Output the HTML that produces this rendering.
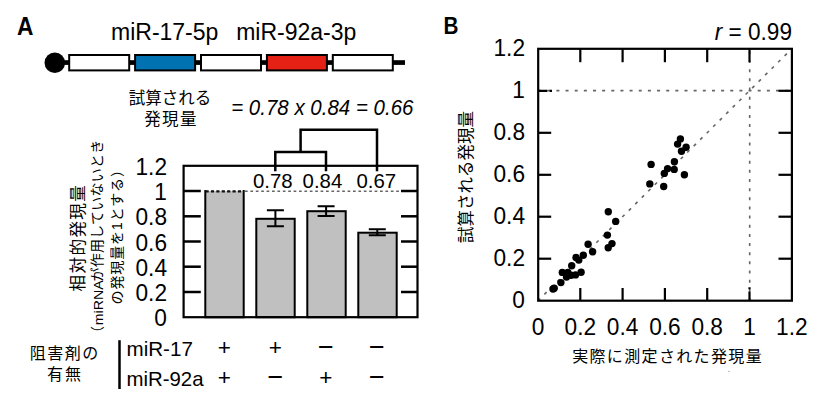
<!DOCTYPE html>
<html><head><meta charset="utf-8"><title>figure</title>
<style>
html,body{margin:0;padding:0;background:#fff;}
svg{display:block;}
</style></head>
<body>
<svg width="820" height="403" viewBox="0 0 820 403">
<rect width="820" height="403" fill="#fff"/>
<text transform="translate(16.9,34.9) scale(0.91,1)" font-family='"Liberation Sans", sans-serif' font-weight="bold" font-size="25">A</text>
<text x="111" y="40" font-family='"Liberation Sans", sans-serif' font-size="23">miR-17-5p</text>
<text x="236.2" y="40" font-family='"Liberation Sans", sans-serif' font-size="23">miR-92a-3p</text>
<rect x="55" y="60.2" width="350" height="4.7" fill="#000"/>
<circle cx="54.8" cy="62.8" r="10.3" fill="#000"/>
<rect x="69.2" y="55" width="60" height="15.4" fill="#fff" stroke="#000" stroke-width="2"/>
<rect x="135.1" y="55" width="60" height="15.4" fill="#0072b2" stroke="#000" stroke-width="2"/>
<rect x="201.0" y="55" width="60" height="15.4" fill="#fff" stroke="#000" stroke-width="2"/>
<rect x="266.9" y="55" width="60" height="15.4" fill="#e52014" stroke="#000" stroke-width="2"/>
<rect x="332.8" y="55" width="60" height="15.4" fill="#fff" stroke="#000" stroke-width="2"/>
<text x="170" y="103.6" text-anchor="middle" font-family='"Liberation Sans", "Noto Sans CJK JP", sans-serif' font-size="16.5">試算される</text>
<text x="171" y="125.3" text-anchor="middle" font-family='"Liberation Sans", "Noto Sans CJK JP", sans-serif' font-size="16.5" letter-spacing="1.4">発現量</text>
<text transform="translate(231.2,114.7) scale(0.99,1.06)" font-family='"Liberation Sans", sans-serif' font-style="italic" font-size="20.7">= 0.78 x 0.84 = 0.66</text>
<path d="M275.3,171.3 V152.1 H326 V171.3 M300.6,152.1 V129.7 H377 V171.3" fill="none" stroke="#000" stroke-width="2.5"/>
<rect x="205.3" y="191.0" width="38.4" height="126.2" fill="#c0c0c0"/>
<path d="M205.3,190.0 V317.2 H243.7 V190.0" fill="none" stroke="#000" stroke-width="2"/>
<rect x="256.3" y="218.8" width="38.4" height="98.4" fill="#c0c0c0" stroke="#000" stroke-width="2"/>
<rect x="307.3" y="211.2" width="38.4" height="106.0" fill="#c0c0c0" stroke="#000" stroke-width="2"/>
<rect x="358.3" y="232.7" width="38.4" height="84.5" fill="#c0c0c0" stroke="#000" stroke-width="2"/>
<path d="M266.9,210.3 H283.9 M275.4,210.3 V226.2 M266.9,226.2 H283.9" fill="none" stroke="#000" stroke-width="2"/>
<path d="M317.6,206.3 H334.6 M326.1,206.3 V216.0 M317.6,216.0 H334.6" fill="none" stroke="#000" stroke-width="2"/>
<path d="M368.8,229.2 H385.8 M377.3,229.2 V235.2 M368.8,235.2 H385.8" fill="none" stroke="#000" stroke-width="2"/>
<line x1="245" y1="191.3" x2="404" y2="191.3" stroke="#666" stroke-width="1.5" stroke-dasharray="2.7 2.7"/>
<line x1="205.5" y1="191.4" x2="244" y2="191.4" stroke="#111" stroke-width="2.2" stroke-dasharray="3.2 2.2"/>
<rect x="183.6" y="165.8" width="233.9" height="151.4" fill="none" stroke="#000" stroke-width="2.2"/>
<line x1="183.6" y1="292.0" x2="200.8" y2="292.0" stroke="#000" stroke-width="2.5"/>
<line x1="401" y1="292.0" x2="417.5" y2="292.0" stroke="#000" stroke-width="2.5"/>
<line x1="183.6" y1="266.7" x2="200.8" y2="266.7" stroke="#000" stroke-width="2.5"/>
<line x1="401" y1="266.7" x2="417.5" y2="266.7" stroke="#000" stroke-width="2.5"/>
<line x1="183.6" y1="241.5" x2="200.8" y2="241.5" stroke="#000" stroke-width="2.5"/>
<line x1="401" y1="241.5" x2="417.5" y2="241.5" stroke="#000" stroke-width="2.5"/>
<line x1="183.6" y1="216.3" x2="200.8" y2="216.3" stroke="#000" stroke-width="2.5"/>
<line x1="401" y1="216.3" x2="417.5" y2="216.3" stroke="#000" stroke-width="2.5"/>
<line x1="183.6" y1="191.0" x2="200.8" y2="191.0" stroke="#000" stroke-width="2.5"/>
<line x1="401" y1="191.0" x2="417.5" y2="191.0" stroke="#000" stroke-width="2.5"/>
<text x="253.0" y="188.2" font-family='"Liberation Sans", sans-serif' font-size="20.4">0.78</text>
<text x="302.6" y="188.2" font-family='"Liberation Sans", sans-serif' font-size="20.4">0.84</text>
<text x="356.5" y="188.2" font-family='"Liberation Sans", sans-serif' font-size="20.4">0.67</text>
<text transform="translate(167.0,326.2) scale(1,1.07)" text-anchor="end" font-family='"Liberation Sans", sans-serif' font-size="22.7">0</text>
<text transform="translate(167.0,301.0) scale(1,1.07)" text-anchor="end" font-family='"Liberation Sans", sans-serif' font-size="22.7">0.2</text>
<text transform="translate(167.0,275.7) scale(1,1.07)" text-anchor="end" font-family='"Liberation Sans", sans-serif' font-size="22.7">0.4</text>
<text transform="translate(167.0,250.5) scale(1,1.07)" text-anchor="end" font-family='"Liberation Sans", sans-serif' font-size="22.7">0.6</text>
<text transform="translate(167.0,225.3) scale(1,1.07)" text-anchor="end" font-family='"Liberation Sans", sans-serif' font-size="22.7">0.8</text>
<text transform="translate(167.0,200.0) scale(1,1.07)" text-anchor="end" font-family='"Liberation Sans", sans-serif' font-size="22.7">1</text>
<text transform="translate(167.0,174.8) scale(1,1.07)" text-anchor="end" font-family='"Liberation Sans", sans-serif' font-size="22.7">1.2</text>
<text transform="translate(83.8,237.6) rotate(-90)" text-anchor="middle" font-family='"Liberation Sans", "Noto Sans CJK JP", sans-serif' font-size="16.6" letter-spacing="1.35">相対的発現量</text>
<text transform="translate(102,340) rotate(-90)" font-family='"Liberation Sans", "Noto Sans CJK JP", sans-serif' font-size="14">（</text>
<text transform="translate(103.3,325.2) rotate(-90) scale(1.16,1)" font-family='"Liberation Sans", sans-serif' font-size="12.2">miRNA</text>
<text transform="translate(102,281.6) rotate(-90)" font-family='"Liberation Sans", "Noto Sans CJK JP", sans-serif' font-size="14" letter-spacing="0.25">が作用していないとき</text>
<text transform="translate(122,304.5) rotate(-90)" font-family='"Liberation Sans", "Noto Sans CJK JP", sans-serif' font-size="14" letter-spacing="0.9">の発現量を1とする）</text>
<text x="64.7" y="359.2" text-anchor="middle" font-family='"Liberation Sans", "Noto Sans CJK JP", sans-serif' font-size="16" letter-spacing="1.5">阻害剤の</text>
<text x="64.9" y="380" text-anchor="middle" font-family='"Liberation Sans", "Noto Sans CJK JP", sans-serif' font-size="16" letter-spacing="2">有無</text>
<line x1="119.5" y1="340.2" x2="119.5" y2="389" stroke="#000" stroke-width="2.5"/>
<text x="126.5" y="355.7" font-family='"Liberation Sans", sans-serif' font-size="20.6">miR-17</text>
<text x="126.5" y="385.6" font-family='"Liberation Sans", sans-serif' font-size="20.4">miR-92a</text>
<text x="224.4" y="354.9" text-anchor="middle" font-family='"Liberation Sans", sans-serif' font-size="22.5">+</text>
<text x="275.4" y="354.9" text-anchor="middle" font-family='"Liberation Sans", sans-serif' font-size="22.5">+</text>
<text x="325.8" y="355.9" text-anchor="middle" font-family='"Liberation Sans", sans-serif' font-size="27">−</text>
<text x="376.9" y="355.9" text-anchor="middle" font-family='"Liberation Sans", sans-serif' font-size="27">−</text>
<text x="224.4" y="385.2" text-anchor="middle" font-family='"Liberation Sans", sans-serif' font-size="22.5">+</text>
<text x="275.4" y="386.2" text-anchor="middle" font-family='"Liberation Sans", sans-serif' font-size="27">−</text>
<text x="325.8" y="385.2" text-anchor="middle" font-family='"Liberation Sans", sans-serif' font-size="22.5">+</text>
<text x="376.9" y="386.2" text-anchor="middle" font-family='"Liberation Sans", sans-serif' font-size="27">−</text>
<text transform="translate(443.6,34) scale(0.88,1)" font-family='"Liberation Sans", sans-serif' font-weight="bold" font-size="23.5">B</text>
<text transform="translate(792,39.6) scale(1,1.07)" text-anchor="end" font-family='"Liberation Sans", sans-serif' font-size="22.6"><tspan font-style="italic">r</tspan> = 0.99</text>
<line x1="538.1" y1="90.6" x2="791" y2="90.6" stroke="#666" stroke-width="1.6" stroke-dasharray="3 6.15"/>
<line x1="749.7" y1="48.8" x2="749.7" y2="300" stroke="#666" stroke-width="1.6" stroke-dasharray="3 6.15" stroke-dashoffset="7.05"/>
<line x1="539" y1="299.7" x2="791" y2="49.5" stroke="#666" stroke-width="1.6" stroke-dasharray="3.2 5.95" stroke-dashoffset="1.6"/>
<rect x="538.2" y="48.8" width="253.7" height="251.9" fill="none" stroke="#000" stroke-width="2.2"/>
<line x1="580.3" y1="48.8" x2="580.3" y2="62.2" stroke="#000" stroke-width="2.2"/>
<line x1="580.3" y1="300.7" x2="580.3" y2="288" stroke="#000" stroke-width="2.2"/>
<line x1="538.2" y1="258.7" x2="551.2" y2="258.7" stroke="#000" stroke-width="2.2"/>
<line x1="791.9" y1="258.7" x2="778.5" y2="258.7" stroke="#000" stroke-width="2.2"/>
<line x1="622.6" y1="48.8" x2="622.6" y2="62.2" stroke="#000" stroke-width="2.2"/>
<line x1="622.6" y1="300.7" x2="622.6" y2="288" stroke="#000" stroke-width="2.2"/>
<line x1="538.2" y1="216.7" x2="551.2" y2="216.7" stroke="#000" stroke-width="2.2"/>
<line x1="791.9" y1="216.7" x2="778.5" y2="216.7" stroke="#000" stroke-width="2.2"/>
<line x1="664.9" y1="48.8" x2="664.9" y2="62.2" stroke="#000" stroke-width="2.2"/>
<line x1="664.9" y1="300.7" x2="664.9" y2="288" stroke="#000" stroke-width="2.2"/>
<line x1="538.2" y1="174.8" x2="551.2" y2="174.8" stroke="#000" stroke-width="2.2"/>
<line x1="791.9" y1="174.8" x2="778.5" y2="174.8" stroke="#000" stroke-width="2.2"/>
<line x1="707.2" y1="48.8" x2="707.2" y2="62.2" stroke="#000" stroke-width="2.2"/>
<line x1="707.2" y1="300.7" x2="707.2" y2="288" stroke="#000" stroke-width="2.2"/>
<line x1="538.2" y1="132.8" x2="551.2" y2="132.8" stroke="#000" stroke-width="2.2"/>
<line x1="791.9" y1="132.8" x2="778.5" y2="132.8" stroke="#000" stroke-width="2.2"/>
<line x1="749.5" y1="48.8" x2="749.5" y2="62.2" stroke="#000" stroke-width="2.2"/>
<path d="M749.5,300.7 V291.6 M749.5,289.3 V287.2" stroke="#000" stroke-width="2.2" fill="none"/>
<path d="M538.2,90.8 H547.3 M549.6,90.8 H552" stroke="#000" stroke-width="2.2" fill="none"/>
<line x1="791.9" y1="90.8" x2="778.5" y2="90.8" stroke="#000" stroke-width="2.2"/>
<circle cx="680.4" cy="138.9" r="3.7" fill="#000"/>
<circle cx="677.6" cy="144.1" r="3.7" fill="#000"/>
<circle cx="686.1" cy="147.3" r="3.7" fill="#000"/>
<circle cx="681.5" cy="151.3" r="3.7" fill="#000"/>
<circle cx="651.1" cy="164.4" r="3.7" fill="#000"/>
<circle cx="674.4" cy="161.7" r="3.7" fill="#000"/>
<circle cx="667.6" cy="168.6" r="3.7" fill="#000"/>
<circle cx="674.2" cy="169.4" r="3.7" fill="#000"/>
<circle cx="664.3" cy="173.4" r="3.7" fill="#000"/>
<circle cx="684.4" cy="174.7" r="3.7" fill="#000"/>
<circle cx="649.8" cy="183.9" r="3.7" fill="#000"/>
<circle cx="663.7" cy="186.5" r="3.7" fill="#000"/>
<circle cx="608.3" cy="211.8" r="3.7" fill="#000"/>
<circle cx="615.7" cy="221.4" r="3.7" fill="#000"/>
<circle cx="607.4" cy="235.1" r="3.7" fill="#000"/>
<circle cx="612.0" cy="243.6" r="3.7" fill="#000"/>
<circle cx="608.2" cy="247.8" r="3.7" fill="#000"/>
<circle cx="588.1" cy="244.2" r="3.7" fill="#000"/>
<circle cx="592.6" cy="251.8" r="3.7" fill="#000"/>
<circle cx="583.3" cy="255.3" r="3.7" fill="#000"/>
<circle cx="576.0" cy="257.5" r="3.7" fill="#000"/>
<circle cx="578.8" cy="260.1" r="3.7" fill="#000"/>
<circle cx="571.7" cy="265.8" r="3.7" fill="#000"/>
<circle cx="562.3" cy="272.4" r="3.7" fill="#000"/>
<circle cx="567.8" cy="272.5" r="3.7" fill="#000"/>
<circle cx="566.5" cy="277.1" r="3.7" fill="#000"/>
<circle cx="575.5" cy="274.9" r="3.7" fill="#000"/>
<circle cx="581.1" cy="272.2" r="3.7" fill="#000"/>
<circle cx="560.9" cy="282.6" r="3.7" fill="#000"/>
<circle cx="553.0" cy="289.0" r="3.7" fill="#000"/>
<circle cx="554.2" cy="288.3" r="3.7" fill="#000"/>
<circle cx="571.0" cy="275.3" r="3.7" fill="#000"/>
<text transform="translate(525.0,307.7) scale(1,1.07)" text-anchor="end" font-family='"Liberation Sans", sans-serif' font-size="22.7">0</text>
<text transform="translate(538.0,335.3) scale(1,1.07)" text-anchor="middle" font-family='"Liberation Sans", sans-serif' font-size="22.7">0</text>
<text transform="translate(525.0,265.7) scale(1,1.07)" text-anchor="end" font-family='"Liberation Sans", sans-serif' font-size="22.7">0.2</text>
<text transform="translate(580.3,335.3) scale(1,1.07)" text-anchor="middle" font-family='"Liberation Sans", sans-serif' font-size="22.7">0.2</text>
<text transform="translate(525.0,223.7) scale(1,1.07)" text-anchor="end" font-family='"Liberation Sans", sans-serif' font-size="22.7">0.4</text>
<text transform="translate(622.6,335.3) scale(1,1.07)" text-anchor="middle" font-family='"Liberation Sans", sans-serif' font-size="22.7">0.4</text>
<text transform="translate(525.0,181.8) scale(1,1.07)" text-anchor="end" font-family='"Liberation Sans", sans-serif' font-size="22.7">0.6</text>
<text transform="translate(664.9,335.3) scale(1,1.07)" text-anchor="middle" font-family='"Liberation Sans", sans-serif' font-size="22.7">0.6</text>
<text transform="translate(525.0,139.8) scale(1,1.07)" text-anchor="end" font-family='"Liberation Sans", sans-serif' font-size="22.7">0.8</text>
<text transform="translate(707.2,335.3) scale(1,1.07)" text-anchor="middle" font-family='"Liberation Sans", sans-serif' font-size="22.7">0.8</text>
<text transform="translate(525.0,97.8) scale(1,1.07)" text-anchor="end" font-family='"Liberation Sans", sans-serif' font-size="22.7">1</text>
<text transform="translate(749.5,335.3) scale(1,1.07)" text-anchor="middle" font-family='"Liberation Sans", sans-serif' font-size="22.7">1</text>
<text transform="translate(525.0,55.8) scale(1,1.07)" text-anchor="end" font-family='"Liberation Sans", sans-serif' font-size="22.7">1.2</text>
<text transform="translate(791.8,335.3) scale(1,1.07)" text-anchor="middle" font-family='"Liberation Sans", sans-serif' font-size="22.7">1.2</text>
<text x="667.6" y="362" text-anchor="middle" font-family='"Liberation Sans", "Noto Sans CJK JP", sans-serif' font-size="16" letter-spacing="1.35">実際に測定された発現量</text>
<text transform="translate(472,177) rotate(-90)" text-anchor="middle" font-family='"Liberation Sans", "Noto Sans CJK JP", sans-serif' font-size="16.5">試算される発現量</text>
<circle cx="729" cy="371.5" r="0.7" fill="#999"/>
</svg>
</body></html>
